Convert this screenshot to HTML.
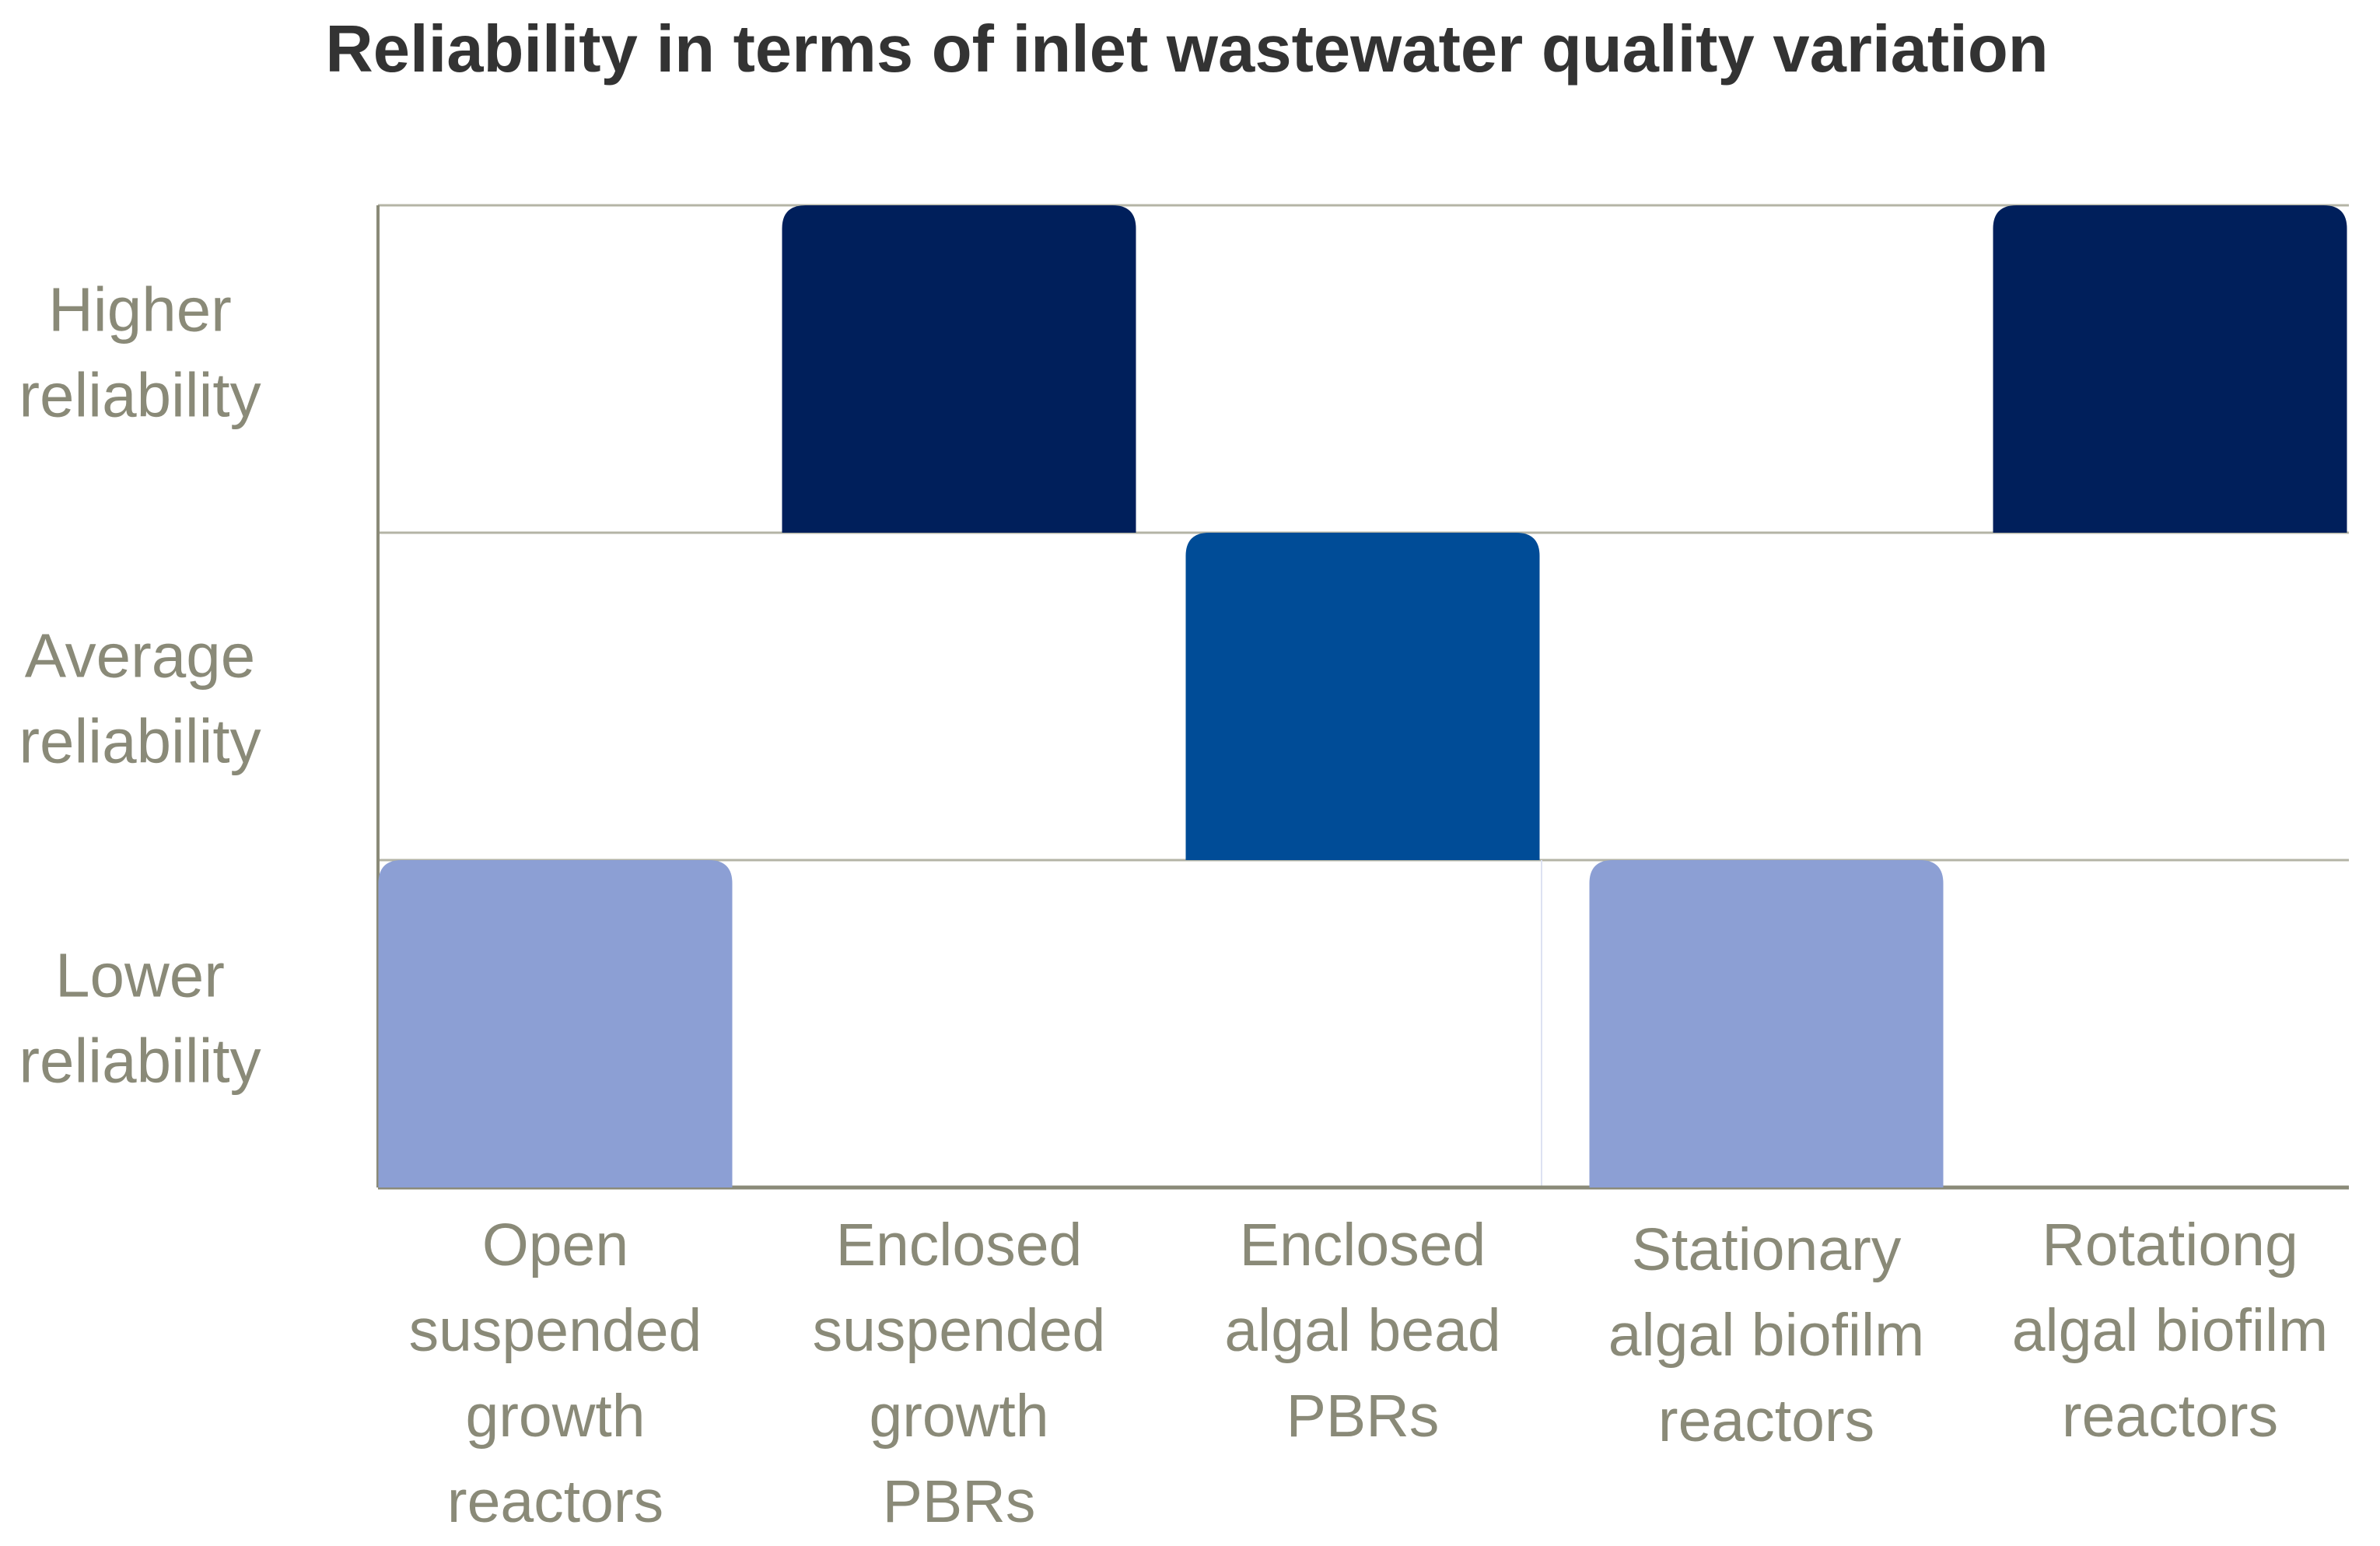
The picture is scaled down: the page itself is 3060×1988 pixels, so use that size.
<!DOCTYPE html>
<html><head><meta charset="utf-8"><style>
html,body{margin:0;padding:0;background:#fff;}
svg{display:block;}
text{font-family:"Liberation Sans",sans-serif;}
</style></head><body>
<svg id="chart" width="3060" height="1988" viewBox="0 0 3060 1988" xmlns="http://www.w3.org/2000/svg">
<text x="1526" y="92" text-anchor="middle" font-size="85" font-weight="bold" fill="#333333">Reliability in terms of inlet wastewater quality variation</text>
<g id="grid"></g>
<g id="bars"></g>
<g id="ylabels"></g>
<g id="xlabels"></g>
</svg>
<script>
const categories = [["Open","suspended","growth","reactors"],["Enclosed","suspended","growth","PBRs"],["Enclosed","algal bead","PBRs"],["Stationary","algal biofilm","reactors"],["Rotationg","algal biofilm","reactors"]];
const levels = [0, 2, 1, 0, 2];
const levelLabels = [["Lower","reliability"],["Average","reliability"],["Higher","reliability"]];
const levelColors = ["#8c9fd4","#004c97","#001f5b"];

const NS="http://www.w3.org/2000/svg";
const plotL=486, plotR=3020, plotT=264, plotB=1527;
const rowH=(plotB-plotT)/3;
const barW=455, firstC=714, step=519;
function xCenter(i){return firstC+i*step;}
function yTop(level){return plotB-(level+1)*rowH;}
function labelShift(lv){return lv===0?10:(lv===1?20:-4);}
function mk(tag,attrs,parent){const e=document.createElementNS(NS,tag);for(const k in attrs)e.setAttribute(k,attrs[k]);parent.appendChild(e);return e;}

const grid=document.getElementById('grid');
for(let k=1;k<=3;k++){
  const y=plotB-k*rowH;
  const l=mk('line',{x1:plotL,x2:plotR,y1:y,y2:y,stroke:'#b4b4a6','stroke-width':3},grid);
  
  
}
const vg=mk('line',{x1:1982,x2:1982,y1:plotB-rowH,y2:plotB,stroke:'#dde2f2','stroke-width':2},grid);


const xa=mk('line',{x1:plotL,x2:plotR,y1:plotB,y2:plotB,stroke:'#8a8a78','stroke-width':5},grid);


const ya=mk('line',{x1:plotL,x2:plotL,y1:plotT,y2:plotB,stroke:'#8a8a78','stroke-width':4},grid);



const bars=document.getElementById('bars');
levels.forEach((lv,i)=>{
  const x=xCenter(i)-barW/2, y=yTop(lv), h=rowH, r=30;
  const d=`M${x},${y+h} L${x},${y+r} Q${x},${y} ${x+r},${y} L${x+barW-r},${y} Q${x+barW},${y} ${x+barW},${y+r} L${x+barW},${y+h} Z`;
  const p=mk('path',{d:d,fill:levelColors[lv]},bars);
  
  
});

const yl=document.getElementById('ylabels');
levelLabels.forEach((lines,lv)=>{
  const cy=plotB-(lv+0.5)*rowH+labelShift(lv);
  lines.forEach((s,j)=>{
    const t=mk('text',{x:180,y:cy-45+j*110,'text-anchor':'middle','font-size':80,fill:'#8a8a78'},yl);
    t.textContent=s;
    
    
  });
});

const xl=document.getElementById('xlabels');
categories.forEach((lines,i)=>{
  const base = i===3 ? 1633 : 1627;
  lines.forEach((s,j)=>{
    const t=mk('text',{x:xCenter(i),y:base+j*110,'text-anchor':'middle','font-size':77,fill:'#8a8a78'},xl);
    t.textContent=s;
    
    
  });
});
</script>
</body></html>
